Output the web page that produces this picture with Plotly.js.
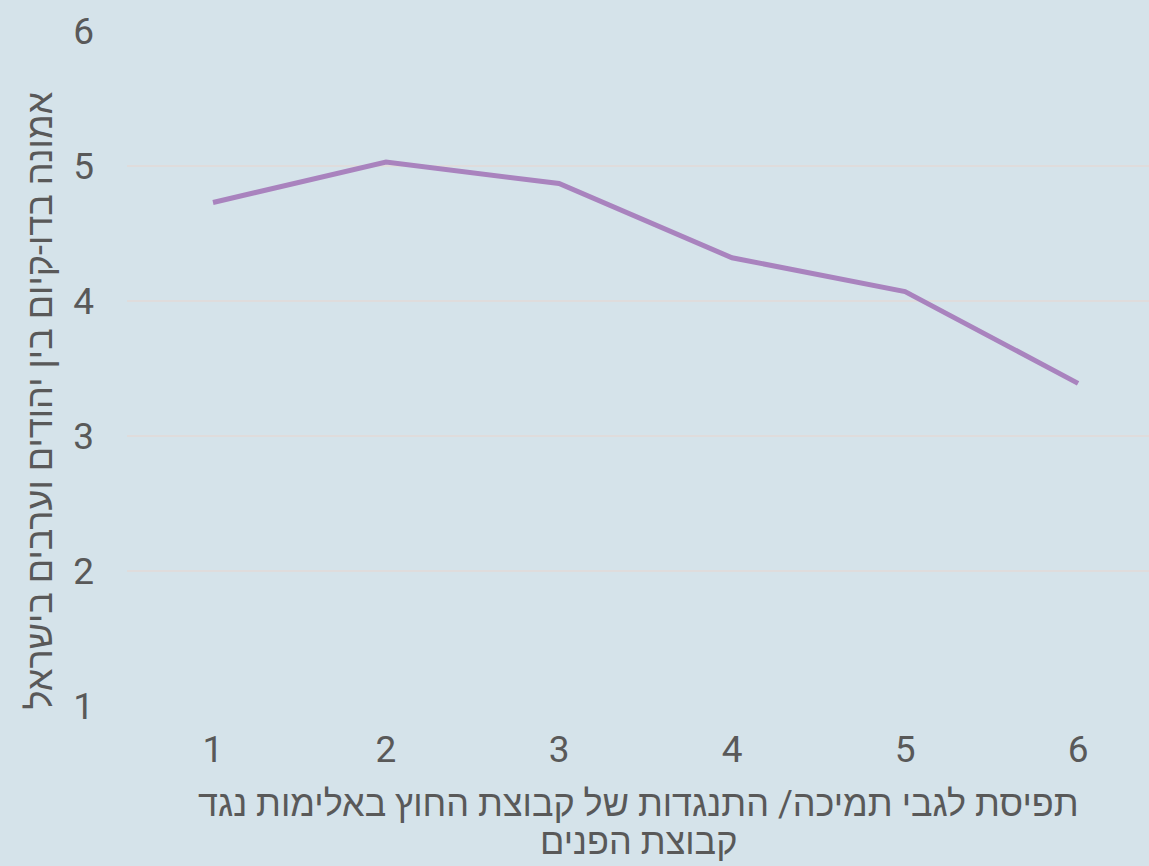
<!DOCTYPE html>
<html>
<head>
<meta charset="utf-8">
<script src="https://cdn.plot.ly/plotly-3.0.1.min.js"></script>
<style>html,body{margin:0;padding:0;background:#d5e3ea;}#chart{width:1149px;height:866px;}</style>
</head>
<body>
<div id="chart"></div>
<script>
const xValues = [1, 2, 3, 4, 5, 6];
const yValues = [4.73, 5.03, 4.87, 4.32, 4.07, 3.39];
const yTicks = [1, 2, 3, 4, 5, 6];
const xTitleLines = ["תפיסת לגבי תמיכה/ התנגדות של קבוצת החוץ באלימות נגד", "קבוצת הפנים"];
const yTitle = "אמונה בדו-קיום בין יהודים וערבים בישראל";

const fontFam = "Roboto, 'Liberation Sans', 'DejaVu Sans', sans-serif";
const textColor = "#595959";

const titleShifts = [-98, -136];

Plotly.newPlot("chart", [{
  x: xValues,
  y: yValues,
  type: "scatter",
  mode: "lines",
  line: {color: "#a983be", width: 5},
  hoverinfo: "skip"
}], {
  width: 1149,
  height: 866,
  paper_bgcolor: "#d5e3ea",
  plot_bgcolor: "#d5e3ea",
  margin: {l: 127, r: 0, t: 31, b: 160},
  showlegend: false,
  font: {family: fontFam, color: textColor},
  xaxis: {
    range: [0.503, 6.41],
    tickvals: xValues,
    ticktext: xValues.map(String),
    showgrid: false,
    zeroline: false,
    showline: false,
    ticks: "",
    ticklabelstandoff: 18,
    tickfont: {size: 37, color: textColor, family: fontFam}
  },
  yaxis: {
    range: [1, 6],
    tickvals: yTicks,
    ticktext: yTicks.map(String),
    showgrid: true,
    gridcolor: "#dfdcdc",
    gridwidth: 1.5,
    zeroline: false,
    showline: false,
    ticks: "",
    ticklabelstandoff: 32,
    tickfont: {size: 37, color: textColor, family: fontFam}
  },
  annotations: xTitleLines.map((t, i) => ({
      text: t,
      xref: "paper", yref: "paper",
      x: 0.5, y: 0, xanchor: "center", yanchor: "middle",
      yshift: titleShifts[i],
      showarrow: false,
      font: {size: 36, color: textColor, family: fontFam}
    })).concat([
    {
      text: yTitle,
      xref: "paper", yref: "paper",
      x: 0, y: 0.5, xanchor: "center", yanchor: "middle",
      xshift: -88, yshift: -32,
      textangle: -90,
      showarrow: false,
      font: {size: 36, color: textColor, family: fontFam}
    }
  ])
}, {displayModeBar: false, staticPlot: true});
</script>
</body>
</html>
